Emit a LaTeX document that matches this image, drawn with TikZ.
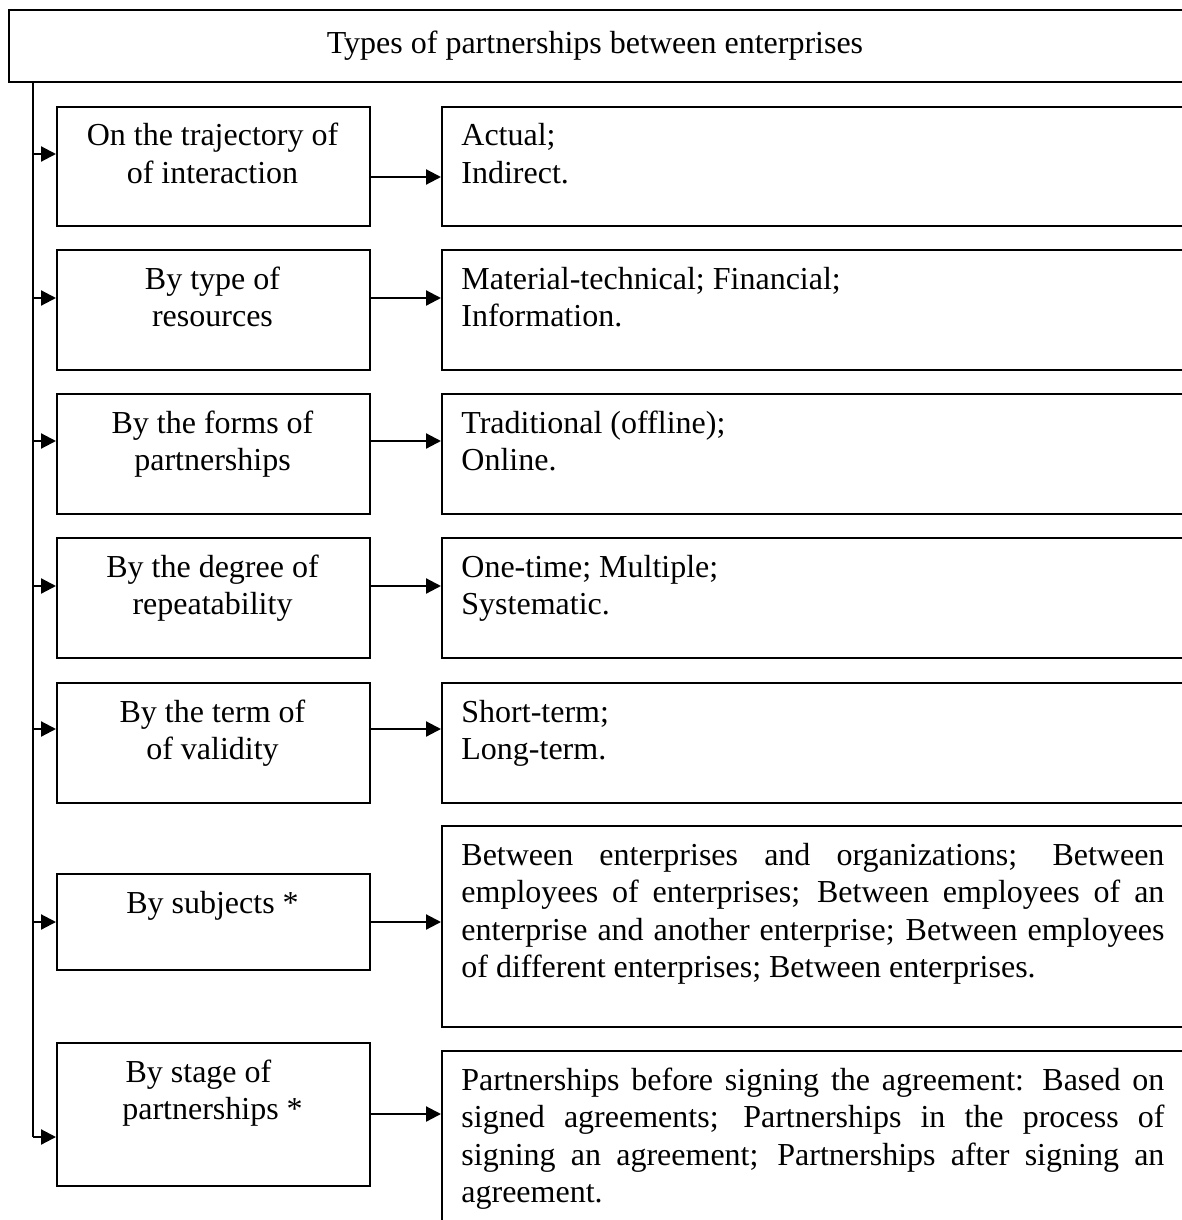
\documentclass[tikz,border=0pt]{standalone}
\usepackage{fontspec}
\setmainfont{Liberation Serif}
\usetikzlibrary{arrows.meta}
\newcommand\dfont{\fontsize{16}{18.75}\selectfont}
\begin{document}
\begin{tikzpicture}[x=0.5pt,y=-0.5pt,
  box/.style={draw, line width=1.1pt, rectangle, inner sep=0pt, anchor=north west},
  lbox/.style={box, minimum width=156.5pt},
  rbox/.style={box, minimum width=379.5pt},
  ltext/.style={anchor=base, text width=150pt, align=flush center, inner sep=0pt, font=\dfont},
  rtext/.style={anchor=base west, text width=351.5pt, align=flush left, inner sep=0pt, font=\dfont},
  ptext/.style={anchor=base west, text width=351.5pt, align=justify, inner sep=0pt, font=\dfont},
  link/.style={line width=1.1pt, -{Triangle[length=7.5pt,width=7.5pt]}},
]
\useasboundingbox (0,0) rectangle (1182,1220);
\clip (0,0) rectangle (1182,1220);

% heading
\node[box, minimum width=596pt, minimum height=36pt] (top) at (8,9) {};
\node[anchor=base, inner sep=0pt, font=\dfont] (title) at (595,54) {Types of partnerships between enterprises};

% classification criteria (left column)
\node[lbox, minimum height=59.5pt] (b1) at (56,106) {};
\node[lbox, minimum height=60pt]   (b2) at (56,249) {};
\node[lbox, minimum height=60pt]   (b3) at (56,393) {};
\node[lbox, minimum height=60pt]   (b4) at (56,537) {};
\node[lbox, minimum height=60pt]   (b5) at (56,682) {};
\node[lbox, minimum height=48pt]   (b6) at (56,873) {};
\node[lbox, minimum height=71.5pt] (b7) at (56,1042) {};

\node[ltext] (t1) at (212.5,146) {On the trajectory of\\of interaction};
\node[ltext] (t2) at (212.5,289) {By type of\\resources};
\node[ltext] (t3) at (212.5,433) {By the forms of\\partnerships};
\node[ltext] (t4) at (212.5,577) {By the degree of\\repeatability};
\node[ltext] (t5) at (212.5,722) {By the term of\\of validity};
\node[ltext] (t6) at (212.5,913) {By subjects *};
\node[ltext] (t7) at (212.5,1082) {\mbox{By stage of\hspace{14pt}}\\partnerships *};

% kinds (right column)
\node[rbox, minimum height=59.5pt] (r1) at (441,106) {};
\node[rbox, minimum height=60pt]   (r2) at (441,249) {};
\node[rbox, minimum height=60pt]   (r3) at (441,393) {};
\node[rbox, minimum height=60pt]   (r4) at (441,537) {};
\node[rbox, minimum height=60pt]   (r5) at (441,682) {};
\node[rbox, minimum height=100.5pt] (r6) at (441,825) {};
\node[rbox, minimum height=105pt]  (r7) at (441,1050) {};

\node[rtext] (k1) at (461,146) {Actual;\\Indirect.};
\node[rtext] (k2) at (461,289) {Material-technical; Financial;\\Information.};
\node[rtext] (k3) at (461,433) {Traditional (offline);\\Online.};
\node[rtext] (k4) at (461,577) {One-time; Multiple;\\Systematic.};
\node[rtext] (k5) at (461,722) {Short-term;\\Long-term.};
\node[ptext] (k6) at (461,865) {Between enterprises and organizations; Between\linebreak
  employees of enterprises; Between employees of an\linebreak
  enterprise and another enterprise; Between employees\linebreak
  of different enterprises; Between enterprises.};
\node[ptext] (k7) at (461,1090) {Partnerships before signing the agreement: Based on\linebreak
  signed agreements; Partnerships in the process of\linebreak
  signing an agreement; Partnerships after signing an\linebreak
  agreement.};

% trunk from the heading
\coordinate (tk) at (33,81);
\draw[line width=1.1pt] (tk |- top.south) -- (tk |- 0,1137);
\draw[link] (tk |- 0,154)  -- (b1.west |- 0,154);
\draw[link] (tk |- 0,298)  -- (b2.west |- 0,298);
\draw[link] (tk |- 0,441)  -- (b3.west |- 0,441);
\draw[link] (tk |- 0,586)  -- (b4.west |- 0,586);
\draw[link] (tk |- 0,729)  -- (b5.west |- 0,729);
\draw[link] (tk |- 0,922)  -- (b6.west |- 0,922);
\draw[link] (tk |- 0,1137) -- (b7.west |- 0,1137);

% criterion to kinds
\draw[link] (b1.east |- 0,177)  -- (r1.west |- 0,177);
\draw[link] (b2.east |- 0,298)  -- (r2.west |- 0,298);
\draw[link] (b3.east |- 0,441)  -- (r3.west |- 0,441);
\draw[link] (b4.east |- 0,586)  -- (r4.west |- 0,586);
\draw[link] (b5.east |- 0,729)  -- (r5.west |- 0,729);
\draw[link] (b6.east |- 0,922)  -- (r6.west |- 0,922);
\draw[link] (b7.east |- 0,1114) -- (r7.west |- 0,1114);
\end{tikzpicture}
\end{document}
